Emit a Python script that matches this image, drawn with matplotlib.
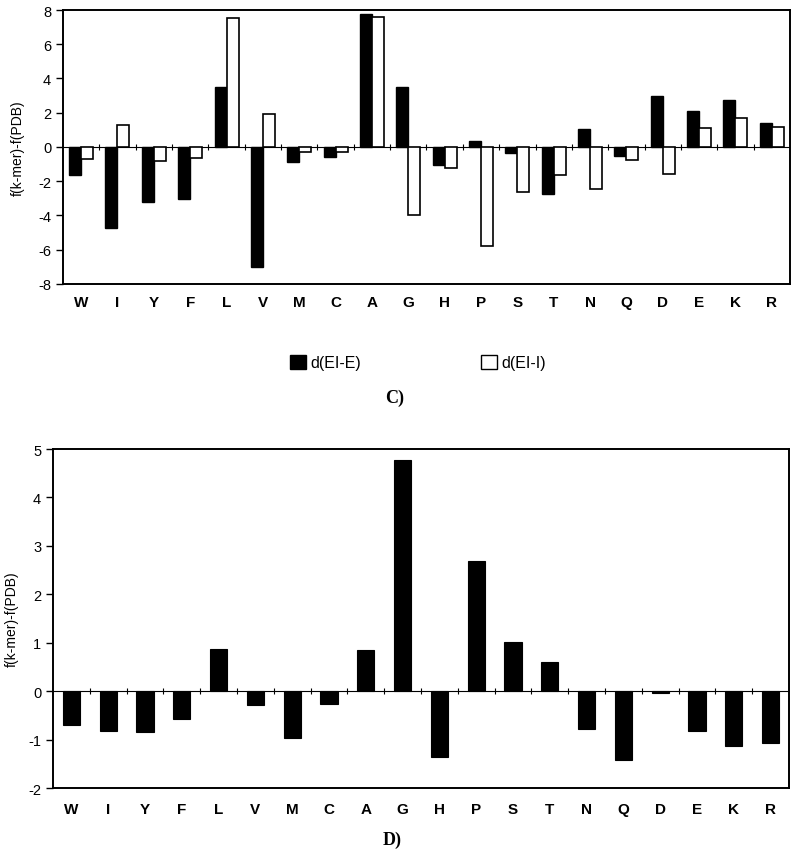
import numpy as np
import matplotlib
matplotlib.use("Agg")
import matplotlib.pyplot as plt
from matplotlib.patches import Patch

plt.rcParams['font.family'] = ['Liberation Sans', 'DejaVu Sans']
plt.rcParams['axes.unicode_minus'] = False

residues = ['W', 'I', 'Y', 'F', 'L', 'V', 'M', 'C', 'A', 'G',
            'H', 'P', 'S', 'T', 'N', 'Q', 'D', 'E', 'K', 'R']

# panel C
d_ei_e = [-1.64, -4.72, -3.2, -3.04, 3.53, -7.0, -0.86, -0.58, 7.76, 3.53,
          -1.03, 0.33, -0.33, -2.77, 1.07, -0.51, 2.96, 2.12, 2.77, 1.38]
d_ei_i = [-0.72, 1.29, -0.84, -0.62, 7.52, 1.91, -0.27, -0.27, 7.6, -3.96,
          -1.23, -5.77, -2.61, -1.66, -2.44, -0.74, -1.56, 1.11, 1.70, 1.17]

# panel D
d_single = [-0.69, -0.82, -0.85, -0.58, 0.88, -0.29, -0.97, -0.26, 0.85, 4.78,
            -1.35, 2.68, 1.02, 0.60, -0.78, -1.42, -0.04, -0.83, -1.13, -1.07]

x = np.arange(len(residues))

fig = plt.figure(figsize=(7.93, 8.53), dpi=100)


def style_axes(ax, ylim, yticks, tick_half, xpad):
    ax.set_xlim(-0.5, len(residues) - 0.5)
    ax.set_ylim(*ylim)
    ax.set_yticks(yticks)
    ax.set_xticks(x)
    ax.set_xticklabels(residues, fontweight='bold', fontsize=11)
    ax.tick_params(axis='x', length=0, pad=xpad)
    ax.tick_params(axis='y', length=5, width=1, direction='out', labelsize=10.5)
    for s in ax.spines.values():
        s.set_linewidth(1.4)
    # zero line with category separators
    ax.axhline(0, color='black', lw=0.8, zorder=1)
    ax.vlines(x[:-1] + 0.5, -tick_half, tick_half, color='black', lw=0.8, zorder=1)
    ax.set_ylabel('f(k-mer)-f(PDB)', fontsize=10)


# --- C) ---
ax1 = fig.add_axes([0.0794, 0.6659, 0.9168, 0.3212])
w = 0.33
ax1.bar(x - w / 2, d_ei_e, w, color='black', edgecolor='black', lw=1, zorder=2)
ax1.bar(x + w / 2, d_ei_i, w, color='white', edgecolor='black', lw=1.2, zorder=2)
style_axes(ax1, (-8, 8), np.arange(-8, 9, 2), 0.15, 8)
ax1.yaxis.set_label_coords(-0.052, 0.5)

handles = [Patch(facecolor='black', edgecolor='black', label='d(EI-E)'),
           Patch(facecolor='white', edgecolor='black', label='d(EI-I)')]
fig.legend(handles=handles, loc='center', bbox_to_anchor=(0.527, 0.574), ncol=2,
           frameon=False, fontsize=11.5, handlelength=1.0, handleheight=1.0,
           handletextpad=0.3, columnspacing=7.5)
fig.text(0.498, 0.533, 'C)', family=['Liberation Serif', 'DejaVu Serif'],
         fontweight='bold', fontsize=13, ha='center', va='center')

# --- D) ---
ax2 = fig.add_axes([0.0668, 0.0750, 0.9281, 0.3974])
ax2.bar(x, d_single, 0.47, color='black', edgecolor='black', lw=0.8, zorder=2)
style_axes(ax2, (-2, 5), np.arange(-2, 6, 1), 0.06, 10)
ax2.yaxis.set_label_coords(-0.046, 0.5)
fig.text(0.494, 0.015, 'D)', family=['Liberation Serif', 'DejaVu Serif'],
         fontweight='bold', fontsize=13, ha='center', va='center')

fig.savefig('out.png', dpi=100)
